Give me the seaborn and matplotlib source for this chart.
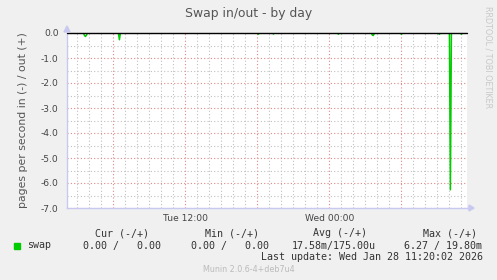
import numpy as np
import pandas as pd
import matplotlib
matplotlib.use("Agg")
import matplotlib.pyplot as plt
import matplotlib.dates as mdates
from matplotlib.ticker import MultipleLocator, FuncFormatter
import seaborn as sns

# ---------------- data ----------------
series_name = "swap"
range_start = "2026-01-27 02:10"
range_end = "2026-01-28 11:25"
# swap-in events (pages/s, shown negative); all other samples are 0
event_times = ["2026-01-27 03:35", "2026-01-27 03:40", "2026-01-27 03:45",
               "2026-01-27 06:30", "2026-01-27 18:05", "2026-01-27 19:20",
               "2026-01-28 00:45", "2026-01-28 03:35", "2026-01-28 03:40",
               "2026-01-28 06:00", "2026-01-28 09:10", "2026-01-28 10:05",
               "2026-01-28 11:00"]
event_values = [-0.09, -0.14, -0.09,
                -0.27, -0.05, -0.04,
                -0.05, -0.09, -0.10,
                -0.05, -0.05, -6.27,
                -0.05]
legend_headers = ["Cur (-/+)", "Min (-/+)", "Avg (-/+)", "Max (-/+)"]
legend_values = ["0.00 /   0.00", "0.00 /   0.00", "17.58m/175.00u", "6.27 / 19.80m"]
title = "Swap in/out - by day"
ylabel = "pages per second in (-) / out (+)"
last_update = "Last update: Wed Jan 28 11:20:02 2026"
footer = "Munin 2.0.6-4+deb7u4"
side_text = "RRDTOOL / TOBI OETIKER"

times = pd.date_range(range_start, range_end, freq="5min")
vals = pd.Series(0.0, index=times)
for t, v in zip(event_times, event_values):
    vals[pd.Timestamp(t)] = v
df = pd.DataFrame({"time": times, "value": vals.values})

# ---------------- figure ----------------
sns.set_style("white")
plt.rcParams["font.family"] = ["DejaVu Sans"]
W, H = 497, 280
fig = plt.figure(figsize=(W / 100, H / 100), dpi=100, facecolor="#F0F0F0")

def fx(px):
    return px / W

def fy(py):
    return 1 - py / H

L, R, T, B = 67, 467, 33, 208
ax = fig.add_axes([fx(L), fy(B), (R - L) / W, (B - T) / H])
ax.set_facecolor("white")

sns.lineplot(data=df, x="time", y="value", ax=ax, color="#00CC00", lw=1.1,
             legend=False, zorder=4)

ax.set_xlim(pd.Timestamp("2026-01-27 02:08"), pd.Timestamp("2026-01-28 11:28"))
ax.set_ylim(-7.0, 0.0)

# grids
ax.xaxis.set_major_locator(mdates.HourLocator(byhour=range(0, 24, 6)))
ax.xaxis.set_minor_locator(mdates.HourLocator())
def xfmt(x, pos):
    d = mdates.num2date(x)
    if d.hour in (0, 12):
        return d.strftime("%a %H:%M")
    return ""
ax.xaxis.set_major_formatter(FuncFormatter(xfmt))
ax.yaxis.set_major_locator(MultipleLocator(1.0))
ax.yaxis.set_minor_locator(MultipleLocator(0.5))
ax.yaxis.set_major_formatter(FuncFormatter(lambda v, p: f"{v:.1f}"))

ax.grid(which="minor", color="#C0C0C0", linestyle=(0, (1, 2)), lw=0.8, zorder=1)
ax.grid(which="major", color="#E08888", linestyle=(0, (1, 2)), lw=0.8, zorder=2)
ax.set_axisbelow(True)

ax.tick_params(axis="both", which="both", length=0, labelsize=6.6,
               labelcolor="#444444")
ax.tick_params(axis="y", pad=6)
ax.tick_params(axis="x", pad=4)
ax.set_xlabel("")
ax.set_ylabel(ylabel, fontsize=7.8, color="#555555", labelpad=9)

for s in ["top", "right"]:
    ax.spines[s].set_visible(False)
for s in ["left", "bottom"]:
    ax.spines[s].set_color("#C8C8F0")
    ax.spines[s].set_linewidth(1.0)

# zero rule
ax.axhline(0.0, color="black", lw=1.0, zorder=5, clip_on=False)

# axis arrows
fig.lines.append(plt.Line2D([fx(R), fx(R + 6)], [fy(B), fy(B)], color="#C8C8F0",
                            lw=1.0, transform=fig.transFigure))
fig.patches.append(plt.Polygon([[fx(R + 2), fy(B - 3)], [fx(R + 7), fy(B)],
                                [fx(R + 2), fy(B + 3)]], closed=True,
                               transform=fig.transFigure, color="#C8C8F0"))
fig.patches.append(plt.Polygon([[fx(L - 3), fy(T - 1)], [fx(L), fy(T - 7)],
                                [fx(L + 3), fy(T - 1)]], closed=True,
                               transform=fig.transFigure, color="#C8C8F0"))

# title
fig.text(fx(249), fy(14), title, ha="center", va="center", fontsize=8.9,
         color="#555555")
# side text
fig.text(fx(488), fy(57), side_text, ha="center", va="center", fontsize=5.8,
         color="#C8C8C8", rotation=270)

# legend
mono = "DejaVu Sans Mono"
fs = 7.2
lc = "#333333"
header_x = [95, 205, 313, 423]
value_x = [83, 191, 292, 404]
for hx, htxt in zip(header_x, legend_headers):
    fig.text(fx(hx), fy(233), htxt, ha="left", va="center", fontsize=fs,
             family=mono, color=lc)
for vx, vtxt in zip(value_x, legend_values):
    fig.text(fx(vx), fy(245.5), vtxt, ha="left", va="center", fontsize=fs,
             family=mono, color=lc)
fig.patches.append(plt.Rectangle((fx(14), fy(248.5)), 6 / W, 6 / H,
                                 transform=fig.transFigure, color="#00CC00"))
fig.text(fx(27), fy(245.5), series_name, ha="left", va="center", fontsize=fs,
         family=mono, color=lc)
fig.text(fx(483), fy(257.5), last_update, ha="right", va="center", fontsize=fs,
         family=mono, color=lc)
fig.text(fx(203), fy(269), footer, ha="left", va="center", fontsize=5.8,
         color="#BBBBBB")

fig.savefig("out.png", dpi=100, facecolor=fig.get_facecolor())
